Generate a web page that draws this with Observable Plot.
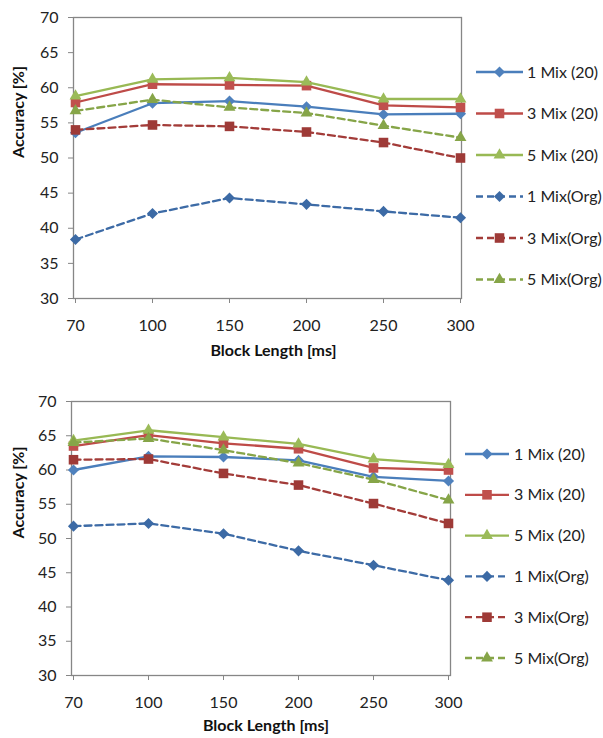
<!DOCTYPE html>
<html>
<head>
<meta charset="utf-8">
<script src="https://cdn.jsdelivr.net/npm/d3@7"></script>
<script src="https://cdn.jsdelivr.net/npm/@observablehq/plot@0.6"></script>
<style>
  html, body { margin: 0; padding: 0; background: #fff; }
  #wrap { position: relative; width: 603px; height: 738px; overflow: hidden; }
  #wrap svg { position: absolute; left: 0; }
</style>
</head>
<body>
<div id="wrap"></div>
<script>
// ---- data ----
const blockLengths = [70, 100, 150, 200, 250, 300];
const seriesNames = ["1 Mix (20)", "3 Mix (20)", "5 Mix (20)", "1 Mix(Org)", "3 Mix(Org)", "5 Mix(Org)"];
const yTicks = [30, 35, 40, 45, 50, 55, 60, 65, 70];

// top chart
const top1Mix20  = [53.6, 57.8, 58.1, 57.3, 56.2, 56.3];
const top3Mix20  = [57.9, 60.5, 60.4, 60.3, 57.5, 57.2];
const top5Mix20  = [58.8, 61.2, 61.4, 60.8, 58.4, 58.4];
const top1MixOrg = [38.4, 42.1, 44.3, 43.4, 42.4, 41.5];
const top3MixOrg = [54.0, 54.7, 54.5, 53.7, 52.2, 50.0];
const top5MixOrg = [56.7, 58.3, 57.2, 56.4, 54.6, 52.9];

// bottom chart
const bot1Mix20  = [60.0, 62.0, 61.9, 61.4, 59.0, 58.4];
const bot3Mix20  = [63.5, 65.1, 63.9, 63.1, 60.3, 60.0];
const bot5Mix20  = [64.3, 65.8, 64.8, 63.8, 61.6, 60.8];
const bot1MixOrg = [51.8, 52.2, 50.7, 48.2, 46.1, 43.9];
const bot3MixOrg = [61.5, 61.6, 59.5, 57.8, 55.1, 52.2];
const bot5MixOrg = [64.0, 64.6, 62.9, 61.0, 58.6, 55.6];

// ---- styles ----
const styles = [
  {line: "#4A7EBB", fill: "#4F81BD", dash: null,  symbol: "diamond2", r: 5.0},
  {line: "#BE4B48", fill: "#C0504D", dash: null,  symbol: "square",   r: 5.4},
  {line: "#98B954", fill: "#9BBB59", dash: null,  symbol: "triangle", r: 4.4},
  {line: "#3D6BA6", fill: "#3C6AA5", dash: "7,4", symbol: "diamond2", r: 5.0},
  {line: "#A33C39", fill: "#9E3A37", dash: "7,4", symbol: "square",   r: 5.4},
  {line: "#86A548", fill: "#86A548", dash: "7,4", symbol: "triangle", r: 4.4}
];
const d3sym = {diamond2: d3.symbolDiamond2, square: d3.symbolSquare, triangle: d3.symbolTriangle};
const FONT = "Lato, 'Open Sans', sans-serif";

function makeChart(seriesValues, cfg) {
  const marks = [
    Plot.axisY({ticks: yTicks, tickSize: 5, tickPadding: 10, label: null, stroke: "#868686", fill: "#222", fontSize: 16}),
    Plot.axisX({tickSize: 5, tickPadding: 16, label: null, stroke: "#868686", fill: "#222", fontSize: 16}),
    Plot.frame({stroke: "#868686", strokeWidth: 1.3})
  ];
  seriesValues.forEach((vals, i) => {
    const s = styles[i];
    const data = blockLengths.map((b, j) => ({x: b, y: vals[j]}));
    marks.push(Plot.line(data, {x: "x", y: "y", stroke: s.line, strokeWidth: 2.3, strokeDasharray: s.dash || undefined}));
    marks.push(Plot.dot(data, {x: "x", y: "y", symbol: () => s.symbol, r: s.r, fill: s.fill, stroke: "none"}));
  });
  marks.push(Plot.text(["Block Length [ms]"], {text: d => d, frameAnchor: "bottom", dy: cfg.xLabelDy, dx: cfg.xLabelDx, fontWeight: "bold", fontSize: 16, fill: "#111"}));
  marks.push(Plot.text(["Accuracy [%]"], {text: d => d, frameAnchor: "left", dx: cfg.yLabelDx, rotate: -90, fontWeight: "bold", fontSize: 16, fill: "#111"}));

  const svg = Plot.plot({
    width: 603,
    height: cfg.height,
    marginLeft: cfg.marginLeft,
    marginRight: cfg.marginRight,
    marginTop: cfg.marginTop,
    marginBottom: cfg.marginBottom,
    style: {fontFamily: FONT, fontSize: "16px", background: "transparent", overflow: "visible"},
    x: {type: "point", domain: blockLengths, padding: 0},
    y: {domain: [30, 70]},
    marks
  });

  // legend
  const g = d3.select(svg).append("g").attr("class", "legend").attr("text-anchor", "start");
  seriesNames.forEach((name, i) => {
    const s = styles[i];
    const y = cfg.legY0 + i * cfg.legStep;
    g.append("line")
      .attr("x1", cfg.legX1).attr("x2", cfg.legX2).attr("y1", y).attr("y2", y)
      .attr("stroke", s.line).attr("stroke-width", 2.3)
      .attr("stroke-dasharray", s.dash);
    g.append("path")
      .attr("d", d3.symbol(d3sym[s.symbol], s.r * s.r * Math.PI)())
      .attr("transform", `translate(${(cfg.legX1 + cfg.legX2) / 2},${y})`)
      .attr("fill", s.fill);
    g.append("text")
      .attr("x", cfg.legTextX).attr("y", y).attr("dy", "0.35em")
      .attr("text-anchor", "start")
      .attr("font-family", FONT)
      .attr("font-size", 16).attr("fill", "#222")
      .text(name);
  });
  return svg;
}

const wrap = document.getElementById("wrap");

const svgTop = makeChart(
  [top1Mix20, top3Mix20, top5Mix20, top1MixOrg, top3MixOrg, top5MixOrg],
  {height: 369, marginLeft: 73, marginRight: 142, marginTop: 17, marginBottom: 71,
   xLabelDy: 57, xLabelDx: 6, yLabelDx: -55,
   legY0: 72, legStep: 41.5, legX1: 476, legX2: 523, legTextX: 527}
);
svgTop.style.top = "0px";
wrap.appendChild(svgTop);

const svgBot = makeChart(
  [bot1Mix20, bot3Mix20, bot5Mix20, bot1MixOrg, bot3MixOrg, bot5MixOrg],
  {height: 369, marginLeft: 71, marginRight: 153, marginTop: 32, marginBottom: 63,
   xLabelDy: 55, xLabelDx: 5, yLabelDx: -53,
   legY0: 85, legStep: 40.8, legX1: 465, legX2: 509, legTextX: 514}
);
svgBot.style.top = "369px";
wrap.appendChild(svgBot);
</script>
</body>
</html>
